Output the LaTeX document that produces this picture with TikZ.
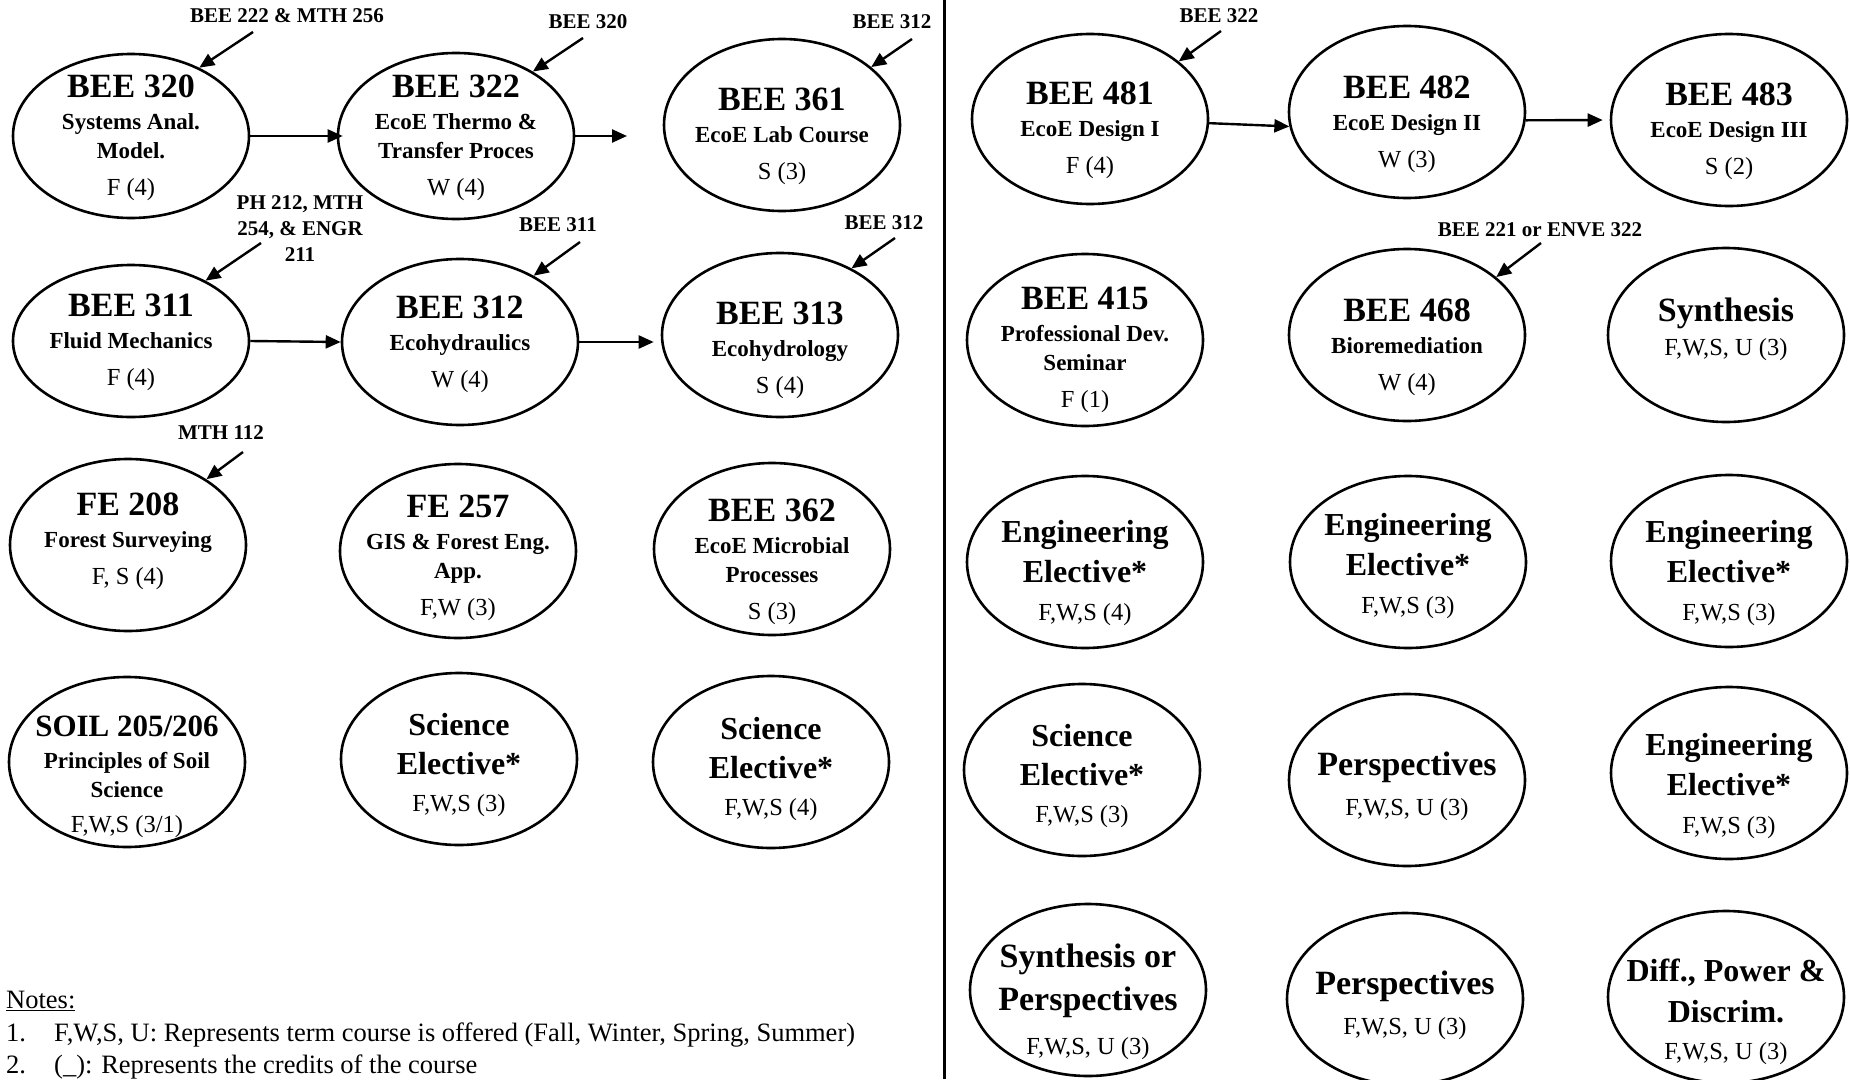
\documentclass[tikz,border=0pt]{standalone}
\usepackage{fontspec}
\setmainfont{Liberation Serif}
\usetikzlibrary{shapes.geometric,arrows.meta}

\newcommand\ctitle[1]{{\fontsize{34}{34}\selectfont\bfseries #1}}
\newcommand\etitle[1]{{\fontsize{32}{32}\selectfont\bfseries #1}}
\newcommand\btitle[1]{{\fontsize{34}{34}\selectfont\bfseries #1}}
\newcommand\csub[1]{{\fontsize{23}{23}\selectfont\bfseries #1}}
\newcommand\crs[7]{%
  \node[ell, minimum height=#4pt] (#1) at (#2,#3) {};
  \node[#6] (#1-t) at (#2,#5) {#7};}

\begin{document}
\begin{tikzpicture}[x=1pt,y=-1pt,
  ell/.style={draw, ellipse, line width=2.6pt, minimum width=236pt, inner sep=0pt},
  ctext/.style={align=center, font=\fontsize{24.5}{29}\selectfont, inner sep=0pt},
  etext/.style={align=center, font=\fontsize{24.5}{37}\selectfont, inner sep=0pt},
  plbl/.style={align=center, font=\fontsize{21}{26}\selectfont\bfseries, inner sep=0pt},
  arr/.style={line width=2.4pt, -{Triangle[length=15pt,width=13pt]}},
  note/.style={font=\fontsize{26.5}{30}\selectfont, inner sep=0pt}]
\useasboundingbox (0,0) rectangle (1850,1079);
\fill[white] (0,0) rectangle (1850,1079);

% divider
\draw[line width=3pt] (944,0) -- (944,1079);

% ---------- left panel ----------
\crs{c320}{131}{136}{164}{138}{ctext}{\ctitle{BEE 320}\\[3pt]\csub{Systems Anal.}\\\csub{Model.}\\[8pt]F (4)}
\crs{c322}{456}{136}{166}{138}{ctext}{\ctitle{BEE 322}\\[3pt]\csub{EcoE Thermo \&}\\\csub{Transfer Proces}\\[8pt]W (4)}
\crs{c361}{782}{125}{172}{136}{ctext}{\ctitle{BEE 361}\\[3pt]\csub{EcoE Lab Course}\\[8pt]S (3)}
\crs{c311}{131}{341}{152}{342}{ctext}{\ctitle{BEE 311}\\[3pt]\csub{Fluid Mechanics}\\[8pt]F (4)}
\crs{c312}{460}{342}{166}{344}{ctext}{\ctitle{BEE 312}\\[3pt]\csub{Ecohydraulics}\\[8pt]W (4)}
\crs{c313}{780}{335}{164}{350}{ctext}{\ctitle{BEE 313}\\[3pt]\csub{Ecohydrology}\\[8pt]S (4)}
\crs{fe208}{128}{545}{172}{541}{ctext}{\ctitle{FE 208}\\[3pt]\csub{Forest Surveying}\\[8pt]F, S (4)}
\crs{fe257}{458}{551}{174}{558}{ctext}{\ctitle{FE 257}\\[3pt]\csub{GIS \& Forest Eng.}\\\csub{App.}\\[8pt]F,W (3)}
\crs{b362}{772}{549}{172}{562}{ctext}{\ctitle{BEE 362}\\[3pt]\csub{EcoE Microbial}\\\csub{Processes}\\[8pt]S (3)}
\crs{soil}{127}{762}{170}{777}{ctext}{{\fontsize{31}{31}\selectfont\bfseries SOIL 205/206}\\[3pt]\csub{Principles of Soil}\\\csub{Science}\\[6pt]F,W,S (3/1)}
\crs{sci1}{459}{759}{172}{765}{etext}{\etitle{Science}\\[2pt]\etitle{Elective*}\\F,W,S (3)}
\crs{sci2}{771}{762}{172}{769}{etext}{\etitle{Science}\\[2pt]\etitle{Elective*}\\F,W,S (4)}

% ---------- right panel ----------
\crs{b481}{1090}{119}{170}{130}{ctext}{\ctitle{BEE 481}\\[3pt]\csub{EcoE Design I}\\[8pt]F (4)}
\crs{b482}{1407}{112}{172}{124}{ctext}{\ctitle{BEE 482}\\[3pt]\csub{EcoE Design II}\\[8pt]W (3)}
\crs{b483}{1729}{120}{172}{131}{ctext}{\ctitle{BEE 483}\\[3pt]\csub{EcoE Design III}\\[8pt]S (2)}
\crs{b415}{1085}{340}{172}{350}{ctext}{\ctitle{BEE 415}\\[3pt]\csub{Professional Dev.}\\\csub{Seminar}\\[8pt]F (1)}
\crs{b468}{1407}{335}{172}{347}{ctext}{\ctitle{BEE 468}\\[3pt]\csub{Bioremediation}\\[8pt]W (4)}
\crs{syn}{1726}{335}{174}{329}{ctext}{\btitle{Synthesis}\\[5pt]F,W,S, U (3)}
\crs{eng1}{1085}{562}{172}{573}{etext}{\etitle{Engineering}\\[3pt]\etitle{Elective*}\\[1pt]F,W,S (4)}
\crs{eng2}{1408}{562}{172}{566}{etext}{\etitle{Engineering}\\[3pt]\etitle{Elective*}\\[1pt]F,W,S (3)}
\crs{eng3}{1729}{561}{172}{573}{etext}{\etitle{Engineering}\\[3pt]\etitle{Elective*}\\[1pt]F,W,S (3)}
\crs{sci3}{1082}{770}{172}{776}{etext}{\etitle{Science}\\[2pt]\etitle{Elective*}\\F,W,S (3)}
\crs{persp1}{1407}{780}{172}{786}{etext}{\btitle{Perspectives}\\[3pt]F,W,S, U (3)}
\crs{eng4}{1729}{773}{172}{786}{etext}{\etitle{Engineering}\\[3pt]\etitle{Elective*}\\[1pt]F,W,S (3)}
\crs{synp}{1088}{990}{172}{1002}{etext}{\btitle{Synthesis or}\\[6pt]\btitle{Perspectives}\\[7pt]F,W,S, U (3)}
\crs{persp2}{1405}{999}{172}{1005}{etext}{\btitle{Perspectives}\\[3pt]F,W,S, U (3)}
\crs{diff}{1726}{997}{172}{1012}{etext}{\etitle{Diff., Power \&}\\[4pt]\etitle{Discrim.}\\F,W,S, U (3)}

% ---------- sequence arrows ----------
\draw[arr, shorten >=-6pt] (c320.east) -- (c322.west);
\coordinate (c322o) at (627,136);
\draw[arr] (c322.east) -- (c322o);
\draw[arr] (c311.east) -- (c312.west);
\draw[arr, shorten >=7pt] (c312.east) -- (c312.east -| c313.west);
\draw[arr] (b481.-2) -- (b482.187);
\draw[arr, shorten >=7pt] (b482.-4) -- (b483.west);

% ---------- prerequisite labels ----------
\node[plbl] (l320) at (287,16) {BEE 222 \& MTH 256};
\coordinate (a320) at (253,32);
\draw[arr] (a320) -- (c320.45);

\node[plbl] (l322) at (588,22) {BEE 320};
\coordinate (a322) at (583,38);
\draw[arr] (a322) -- (c322.40);

\node[plbl] (l361) at (892,22) {BEE 312};
\coordinate (a361) at (912,39);
\draw[arr] (a361) -- (c361.33);

\node[plbl] (l311) at (300,229) {PH 212, MTH\\254, \& ENGR\\211};
\coordinate (a311) at (261,243);
\draw[arr] (a311) -- (c311.39);

\node[plbl] (l312) at (558,225) {BEE 311};
\coordinate (a312) at (580,242);
\draw[arr] (a312) -- (c312.42);

\node[plbl] (l313) at (884,223) {BEE 312};
\coordinate (a313) at (895,238);
\draw[arr] (a313) -- (c313.43);

\node[plbl] (l208) at (221,433) {MTH 112};
\coordinate (a208) at (243,452);
\draw[arr] (a208) -- (fe208.40);

\node[plbl] (l481) at (1219,16) {BEE 322};
\coordinate (a481) at (1221,31);
\draw[arr] (a481) -- (b481.33);

\node[plbl] (l468) at (1540,230) {BEE 221 or ENVE 322};
\coordinate (a468) at (1541,243);
\draw[arr] (a468) -- (b468.33);

% ---------- notes ----------
\node[note, anchor=base west] (notes) at (6,1008) {\underline{Notes:}};
\node[note, anchor=base west] (n1) at (6,1041) {1.};
\node[note, anchor=base west] (n1t) at (54,1041) {F,W,S, U: Represents term course is offered (Fall, Winter, Spring, Summer)};
\node[note, anchor=base west] (n2) at (6,1073) {2.};
\node[note, anchor=base west] (n2t) at (54,1073) {(\_): Represents the credits of the course};
\end{tikzpicture}
\end{document}
